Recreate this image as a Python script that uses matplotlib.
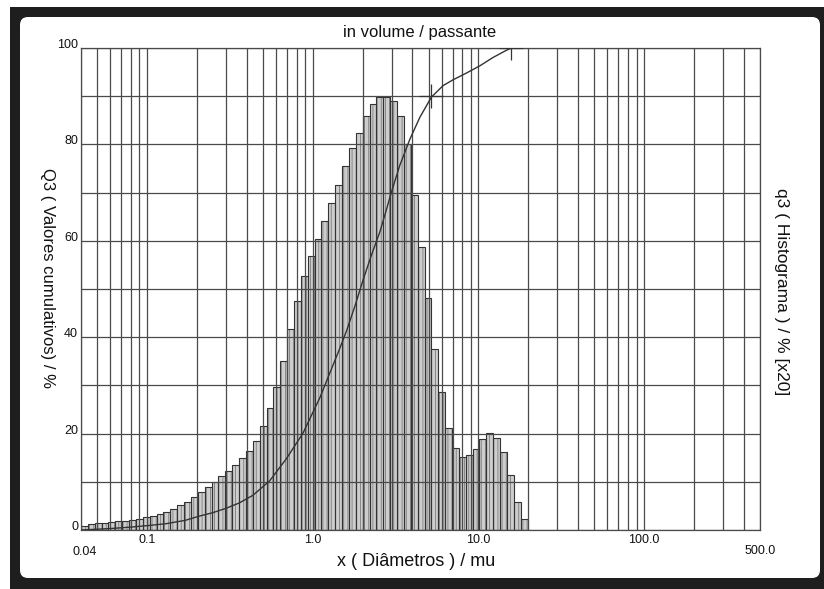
import numpy as np
import matplotlib.pyplot as plt
from matplotlib.patches import Rectangle, FancyBboxPatch
from matplotlib.ticker import LogLocator, NullFormatter

plt.rcParams['font.family'] = ['Liberation Sans', 'DejaVu Sans']
plt.rcParams['hatch.linewidth'] = 0.6

# histogram classes (log-equal, 0.04 .. ~20 mu) and q3 heights [x20]
bin_lo = 0.04
bin_hi = 19.8
q3 = [0.8, 1.2, 1.4, 1.5, 1.65, 1.8, 1.95, 2.1, 2.3, 2.6,
      2.9, 3.3, 3.8, 4.4, 5.1, 5.9, 6.8, 7.8, 8.9, 10.0,
      11.1, 12.3, 13.5, 14.9, 16.4, 18.4, 21.5, 25.3, 29.7, 35.1,
      41.8, 47.5, 52.6, 56.8, 60.3, 64.2, 67.9, 71.5, 75.6, 79.3,
      82.4, 85.8, 88.3, 89.9, 89.9, 89.1, 85.8, 80.0, 69.5, 58.8,
      48.1, 37.6, 28.6, 21.1, 17.1, 15.1, 15.6, 16.9, 18.8, 20.1,
      19.1, 16.1, 11.4, 5.8, 2.2]

# cumulative curve Q3
cum_x = [0.04, 0.06, 0.08, 0.1, 0.13, 0.17, 0.208, 0.25, 0.3, 0.36,
         0.436, 0.55, 0.694, 0.874, 1.10, 1.27, 1.45, 1.6, 1.8, 2.01,
         2.25, 2.54, 2.75, 2.98, 3.35, 3.85, 4.43, 5.2, 6.12, 7.03,
         8.46, 10.2, 12.2, 14.7, 15.8]
cum_y = [0.0, 0.3, 0.6, 0.9, 1.3, 2.0, 2.9, 3.6, 4.5, 5.6,
         7.2, 10.2, 14.8, 20.1, 27.3, 32.6, 37.5, 41.3, 46.5, 51.8,
         56.8, 61.8, 65.8, 70.0, 75.6, 81.0, 85.6, 89.8, 92.2, 93.4,
         94.8, 96.3, 98.0, 99.5, 100.0]

mark_x = [5.2, 15.8]
mark_y = [90, 100]

y_ticks = [0, 20, 40, 60, 80, 100]
x_ticks = [0.1, 1.0, 10.0, 100.0]
x_ticklabels = ['0.1', '1.0', '10.0', '100.0']

W, H = 824, 589
fig = plt.figure(figsize=(W / 100, H / 100), dpi=100)
fig.patch.set_facecolor('white')

# dark frame + white rounded card
fig.add_artist(Rectangle((10 / 100, 0), (W - 10) / 100, (H - 7) / 100,
                         transform=fig.dpi_scale_trans, facecolor='#1e1e1e',
                         edgecolor='none', zorder=-10))
fig.add_artist(FancyBboxPatch((20 / 100, 11 / 100), 800 / 100, 561 / 100,
                              boxstyle='round,pad=0,rounding_size=0.08',
                              transform=fig.dpi_scale_trans, facecolor='white',
                              edgecolor='none', zorder=-9))

ax = fig.add_axes([81 / W, 59 / H, 679 / W, 482 / H])
ax.set_facecolor('white')
ax.set_xscale('log')

edges = np.geomspace(bin_lo, bin_hi, len(q3) + 1)
widths = np.diff(edges)
ax.bar(edges[:-1], q3, width=widths, align='edge', facecolor='#cdcdcd',
       edgecolor='#7c7c7c', hatch='||||', linewidth=0, zorder=1)
ax.bar(edges[:-1], q3, width=widths, align='edge', facecolor='none',
       edgecolor='#333333', linewidth=0.8, zorder=1.5)

ax.set_xlim(0.04, 500)
ax.set_ylim(0, 100)
ax.xaxis.set_major_locator(LogLocator(base=10, numticks=10))
ax.xaxis.set_minor_locator(LogLocator(base=10, subs=np.arange(2, 10), numticks=20))
ax.xaxis.set_minor_formatter(NullFormatter())
ax.set_yticks(np.arange(0, 101, 10))
ax.set_axisbelow(False)
ax.grid(True, which='both', axis='x', color='#4a4a4a', lw=0.9, zorder=2)
ax.grid(True, which='major', axis='y', color='#4a4a4a', lw=0.9, zorder=2)
ax.tick_params(which='both', length=0, labelbottom=False, labelleft=False)
for sp in ax.spines.values():
    sp.set_color('#4a4a4a')
    sp.set_linewidth(0.9)

ax.plot(cum_x, cum_y, color='#333333', lw=1.0, zorder=4)
ax.plot(mark_x, mark_y, ls='none', marker='+', ms=17, mew=0.9,
        color='#333333', zorder=5)

# tick labels
for v in y_ticks:
    ax.annotate(str(v), (0, v), xycoords=('axes fraction', 'data'),
                xytext=(-3, 0), textcoords='offset pixels',
                ha='right', va='baseline', fontsize=9, color='#111111')
for v, lab in zip(x_ticks, x_ticklabels):
    ax.annotate(lab, (v, 0), xycoords=('data', 'axes fraction'),
                xytext=(0, -10), textcoords='offset pixels',
                ha='center', va='center', fontsize=9, color='#111111')
ax.annotate('0.04', (0.04, 0), xycoords=('data', 'axes fraction'),
            xytext=(4, -22), textcoords='offset pixels',
            ha='center', va='center', fontsize=9, color='#111111')
ax.annotate('500.0', (500, 0), xycoords=('data', 'axes fraction'),
            xytext=(0, -21), textcoords='offset pixels',
            ha='center', va='center', fontsize=9, color='#111111')

fig.text(420 / W, 1 - 33 / H, 'in volume / passante', ha='center',
         va='center', fontsize=12, color='#111111')
fig.text(416 / W, 1 - 562 / H, 'x ( Diâmetros ) / mu', ha='center',
         va='center', fontsize=13, color='#111111')
fig.text(47 / W, 1 - 278 / H, 'Q3 ( Valores cumulativos) / %', rotation=270,
         ha='center', va='center', fontsize=12, color='#111111')
fig.text(781 / W, 1 - 292 / H, 'q3 ( Histograma ) / % [x20]', rotation=270,
         ha='center', va='center', fontsize=12.5, color='#111111')

fig.savefig('out.png', dpi=100, facecolor=fig.get_facecolor())
